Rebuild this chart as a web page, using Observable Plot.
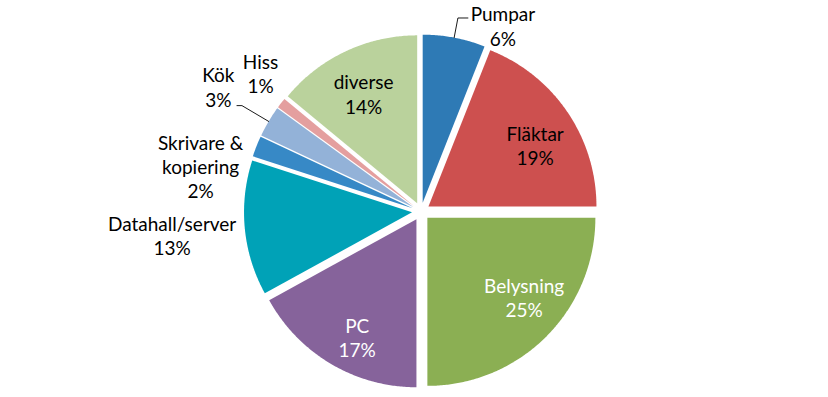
<!DOCTYPE html>
<html>
<head>
<meta charset="utf-8">
<script src="https://cdn.jsdelivr.net/npm/d3@7"></script>
<script src="https://cdn.jsdelivr.net/npm/@observablehq/plot@0.6"></script>
<style>
  html, body { margin: 0; padding: 0; background: #fff; }
  #chart svg { display: block; }
</style>
</head>
<body>
<div id="chart"></div>
<script>
// ---- data ----
const categories = ["Pumpar", "Fläktar", "Belysning", "PC", "Datahall/server", "Skrivare &\nkopiering", "Kök", "Hiss", "diverse"];
const shares = [6, 19, 25, 17, 13, 2, 3, 1, 14];
const colors = ["#2E7AB5", "#CD504F", "#8BAF53", "#86639B", "#00A2B7", "#3789C6", "#93B2D8", "#E49F9F", "#BAD29C"];
const labelColors = ["#000", "#000", "#fff", "#fff", "#000", "#000", "#000", "#000", "#000"];

// ---- layout (pixels) ----
const W = 828, H = 397;
const cx = 420.5, cy = 211;        // pie centre
const R = 168;                      // radius
const explode = 9;                  // radial offset of each slice
// label placement ("best fit"): radius from pie centre and angular nudge (deg) from slice mid-angle
const labelPlace = {
  "Pumpar": {r: 203, nudge: 13, leader: {elbow: 20, tail: 10}},
  "Fläktar": {r: 132, nudge: 4},
  "Belysning": {r: 134, nudge: -5.3},
  "PC": {r: 141, nudge: -3.7},
  "Datahall/server": {r: 250, nudge: 0},
  "Skrivare &\nkopiering": {r: 225, nudge: -10},
  "Kök": {r: 238, nudge: 1, leader: {elbow: 31, tail: 5}},
  "Hiss": {r: 212, nudge: 3},
  "diverse": {r: 131, nudge: -0.8}
};

const rad = d => d * Math.PI / 180;
const total = d3.sum(shares);
const arcs = d3.pie().sort(null).value(d => d)(shares);

const slicePts = [];
const labels = [];
const leaders = [];
arcs.forEach((a, i) => {
  const name = categories[i];
  const mid = (a.startAngle + a.endAngle) / 2;
  const ox = explode * Math.sin(mid), oy = -explode * Math.cos(mid);
  slicePts.push({name, x: ox, y: oy});
  const n = Math.max(2, Math.ceil((a.endAngle - a.startAngle) / rad(0.5)));
  for (let k = 0; k <= n; k++) {
    const t = a.startAngle + (a.endAngle - a.startAngle) * k / n;
    slicePts.push({name, x: ox + R * Math.sin(t), y: oy - R * Math.cos(t)});
  }
  slicePts.push({name, x: ox, y: oy});

  const o = labelPlace[name];
  const pct = Math.round(shares[i] / total * 100) + "%";
  const t = mid + rad(o.nudge);
  const lx = o.r * Math.sin(t), ly = -o.r * Math.cos(t);
  labels.push({name, text: name + "\n" + pct, x: lx, y: ly, color: labelColors[i]});
  if (o.leader) {
    const r0 = R + explode;
    const x0 = r0 * Math.sin(mid), y0 = -r0 * Math.cos(mid);
    const r1 = r0 + o.leader.elbow;
    const x1 = r1 * Math.sin(mid), y1 = -r1 * Math.cos(mid);
    const dir = Math.sign(lx - x1);
    leaders.push({name, x: x0, y: y0});
    leaders.push({name, x: x1, y: y1});
    leaders.push({name, x: x1 + dir * o.leader.tail, y: y1});
  }
});

const chart = Plot.plot({
  width: W,
  height: H,
  margin: 0,
  style: {fontFamily: "Lato, 'Open Sans', sans-serif", background: "#fff"},
  x: {domain: [-cx, W - cx], range: [0, W], axis: null},
  y: {domain: [-cy, H - cy], range: [0, H], axis: null},
  color: {domain: categories, range: colors},
  marks: [
    Plot.line(slicePts, {x: "x", y: "y", z: "name", fill: "name", stroke: "none", curve: "linear"}),
    Plot.line(leaders, {x: "x", y: "y", z: "name", stroke: "#000", strokeWidth: 0.9}),
    Plot.text(labels, {x: "x", y: "y", text: "text", fill: "color", fontSize: 19, lineHeight: 1.28, textAnchor: "middle", lineAnchor: "middle"})
  ]
});
document.getElementById("chart").appendChild(chart);
</script>
</body>
</html>
